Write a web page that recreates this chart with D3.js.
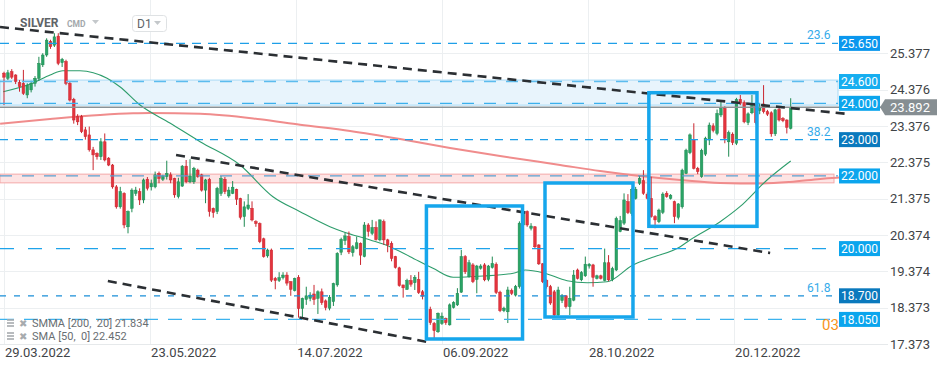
<!DOCTYPE html>
<html>
<head>
<meta charset="utf-8">
<script src="https://cdn.jsdelivr.net/npm/d3@7"></script>
<style>
  body { margin: 0; background: #fff; }
  text { font-family: Roboto, "Noto Sans", sans-serif; }
</style>
</head>
<body>
<script>
var width = 949, height = 370;

// Daily candles
var opens = [24.83,24.69,24.87,24.78,24.57,24.55,24.23,24.37,24.55,24.69,25.06,25.33,25.70,25.60,25.85,25.12,25.15,24.55,24.11,23.63,
  23.63,23.27,23.13,22.72,22.62,22.53,22.94,22.49,22.30,21.70,21.15,21.52,20.60,21.11,21.52,21.57,21.34,21.91,21.70,21.70,
  22.07,21.91,21.98,22.03,21.93,21.43,21.72,22.27,21.84,21.84,22.16,22.03,21.61,21.91,21.11,21.02,21.52,21.91,21.45,21.52,
  21.63,21.38,20.88,21.10,21.11,20.74,20.69,20.27,19.80,19.96,19.18,19.12,19.20,19.27,19.09,18.84,19.20,18.35,18.60,18.63,
  18.75,18.63,18.81,18.56,18.36,18.54,19.00,19.90,20.22,20.33,19.89,20.00,20.14,19.78,20.65,20.42,20.58,20.24,20.74,20.24,
  20.14,19.78,19.47,19.00,18.88,19.12,19.06,19.15,18.81,18.71,18.33,17.94,17.71,17.94,18.08,17.90,18.38,18.45,18.80,19.78,
  19.23,19.55,19.15,19.46,19.55,19.15,19.48,19.57,18.80,18.29,18.26,18.84,18.72,18.95,20.65,21.02,20.56,20.60,20.10,19.58,
  19.13,18.95,18.81,18.17,18.57,18.70,18.40,18.58,19.41,19.14,19.25,19.52,19.55,19.18,19.25,19.12,19.61,19.15,19.41,20.47,
  20.70,21.29,20.97,21.38,21.80,21.87,21.50,21.38,20.88,20.74,21.00,21.52,21.38,21.29,20.86,21.15,22.07,22.64,23.01,22.21,
  21.98,22.60,22.99,23.38,23.17,23.68,23.86,22.94,23.15,22.90,24.11,24.02,23.47,23.74,24.00,23.80,23.98,23.77,23.74,23.16,
  23.83,23.58,23.54,23.31];
var highs = [24.87,24.92,24.94,24.80,24.64,24.92,24.55,24.62,24.75,25.28,25.38,25.79,25.75,25.93,25.93,25.25,25.20,24.60,24.15,23.70,
  23.68,23.35,23.36,22.80,22.65,23.04,23.17,22.52,22.33,21.75,21.70,21.55,21.05,21.66,21.70,21.66,21.93,21.97,21.90,22.12,
  22.12,22.03,22.42,22.10,21.95,21.95,22.30,22.44,22.46,22.25,22.20,22.06,21.92,21.95,21.13,21.70,22.00,21.97,21.70,21.86,
  21.65,21.40,21.30,21.50,21.30,20.78,20.72,20.30,20.00,20.00,19.22,19.35,19.35,19.35,19.10,19.20,19.27,18.65,18.95,18.80,
  19.00,18.85,18.90,18.60,18.72,19.06,19.90,20.30,20.44,20.47,20.10,20.33,20.17,20.73,20.70,20.79,20.75,20.80,20.80,20.27,
  20.20,19.80,19.50,19.00,19.17,19.27,19.27,19.36,18.86,18.82,18.40,17.98,18.24,18.24,18.10,18.49,18.55,18.91,19.96,19.82,
  19.69,19.60,19.55,19.57,19.60,19.55,19.78,19.62,18.84,18.40,18.95,18.90,19.00,20.75,21.11,21.05,20.70,20.62,20.12,19.60,
  19.15,19.00,18.86,18.95,18.75,18.72,18.95,19.41,19.45,19.38,19.78,19.60,19.58,19.28,19.28,20.00,19.82,19.50,20.88,20.90,
  21.52,21.50,21.66,21.70,22.00,22.16,21.55,21.98,20.92,21.10,21.55,21.58,21.50,21.32,21.25,22.20,22.75,23.17,23.45,22.25,
  22.75,23.08,23.47,23.45,23.83,24.07,23.92,23.25,23.20,24.15,24.23,24.08,23.75,24.23,24.02,24.00,24.50,23.82,23.78,23.85,
  23.90,23.62,23.56,24.14];
var lows = [23.95,24.64,24.67,24.53,24.32,24.23,24.14,24.30,24.46,24.62,25.00,25.28,25.50,25.55,25.05,25.00,24.50,24.05,23.44,23.40,
  23.18,23.00,22.67,22.16,22.45,22.44,22.40,22.27,21.65,21.10,21.10,20.56,20.42,21.00,21.45,21.20,21.25,21.60,21.60,21.66,
  21.80,21.86,21.90,21.80,21.40,21.38,21.70,21.80,21.80,21.78,21.95,21.57,21.25,20.88,20.85,20.95,21.45,21.50,21.40,21.50,
  21.20,20.80,20.60,21.06,20.75,20.60,20.15,19.75,19.75,19.08,18.88,19.08,19.15,18.98,18.70,18.82,18.10,18.10,18.45,18.55,
  18.45,18.20,18.45,18.30,18.30,18.42,18.95,19.82,20.10,19.85,19.78,19.98,19.55,19.76,20.33,20.37,20.22,20.20,20.10,19.90,
  19.65,19.45,18.95,18.65,18.86,18.95,18.86,18.75,18.60,18.30,17.90,17.53,17.68,17.90,17.90,17.88,18.35,18.42,18.78,19.30,
  19.20,19.05,18.77,19.42,19.10,19.10,19.45,18.75,18.25,18.25,17.95,18.72,18.68,18.90,20.60,20.60,20.50,20.00,19.55,19.05,
  18.90,18.45,18.10,18.12,18.50,18.35,18.17,18.55,19.15,19.10,19.22,19.45,18.95,19.15,19.15,19.10,19.10,19.10,19.38,20.45,
  20.65,20.95,20.90,21.35,21.75,21.48,21.35,20.85,20.56,20.70,20.95,21.40,21.35,20.70,20.80,21.10,22.05,22.60,22.18,22.05,
  21.95,22.55,22.85,23.20,23.12,23.62,22.90,22.53,22.85,22.85,23.95,23.45,23.40,23.70,23.42,23.70,23.72,23.65,23.08,23.10,
  23.50,23.48,23.17,23.28];
var closes = [24.72,24.84,24.72,24.60,24.46,24.27,24.50,24.55,24.69,25.10,25.33,25.74,25.56,25.83,25.10,25.21,24.55,24.09,23.54,23.49,
  23.22,23.08,22.72,22.58,22.53,22.94,22.44,22.30,21.70,21.15,21.57,20.65,21.02,21.61,21.61,21.34,21.89,21.66,21.79,22.03,
  21.93,22.00,22.07,21.89,21.48,21.84,22.27,21.84,22.00,22.21,21.98,21.61,21.89,21.02,20.99,21.66,21.93,21.57,21.61,21.69,
  21.36,20.86,21.15,21.20,20.79,20.69,20.19,19.78,19.96,19.13,19.12,19.20,19.27,19.05,18.88,19.18,18.35,18.63,18.70,18.72,
  18.60,18.81,18.51,18.38,18.66,19.04,19.87,20.25,20.35,19.91,20.05,20.16,19.82,20.65,20.47,20.58,20.25,20.79,20.24,20.10,
  19.73,19.48,18.98,18.92,19.12,19.02,19.21,18.79,18.69,18.33,17.96,17.74,18.22,18.14,17.96,18.45,18.51,18.77,19.78,19.36,
  19.61,19.09,19.52,19.52,19.14,19.52,19.59,18.79,18.29,18.36,18.86,18.77,18.95,20.70,21.02,20.65,20.62,20.05,19.58,19.09,
  18.95,18.50,18.17,18.86,18.70,18.40,18.63,19.27,19.18,19.34,19.57,19.57,19.21,19.25,19.18,19.61,19.14,19.45,20.83,20.77,
  21.34,20.99,21.63,21.63,21.93,21.52,21.38,20.88,20.79,21.06,21.50,21.43,21.47,20.88,21.23,22.16,22.71,23.13,22.21,22.12,
  22.70,23.04,23.40,23.25,23.72,23.86,23.04,23.19,22.92,24.11,24.00,23.49,23.71,24.00,23.47,23.89,23.77,23.70,23.16,23.82,
  23.54,23.52,23.34,23.89];

var lastPrice = 23.892;

// Axis ticks and date labels
var priceTicks = [25.377, 24.376, 23.376, 22.375, 21.375, 20.374, 19.374, 18.373, 17.373];
var dateLabels = ["29.03.2022", "23.05.2022", "14.07.2022", "06.09.2022", "28.10.2022", "20.12.2022"];
var dateIdx = [0, 37.7, 75.4, 113, 150.7, 188.4];

// Horizontal levels (right side labels) and fibonacci marks
var levels = [25.65, 24.6, 24.0, 23.0, 22.0, 20.0, 18.7, 18.05];
var fibNames = ["23.6", "38.2", "61.8"];
var fibLevels = [25.65, 23.0, 18.7];
var blueZone = [23.95, 24.64];
var pinkZone = [21.81, 22.05];

// Moving averages
var smmaIdx = [-1, 11.9, 24.8, 33.3, 37.7, 50.6, 66.1, 76.4, 89.3, 102.2, 115.1, 128, 143.5, 153.8, 164.1, 174.5, 184.8, 195.1, 202.8, 210.6, 220.9];
var smmaVal = [23.44, 23.57, 23.68, 23.725, 23.733, 23.714, 23.56, 23.41, 23.238, 23.017, 22.77, 22.549, 22.302, 22.136, 21.999, 21.889, 21.807, 21.792, 21.834, 21.917, 21.999];
var smaIdx = [-0.2, 7.5, 11.9, 15.2, 19.6, 26.6, 29.9, 35.1, 42.8, 50.6, 60.9, 69.4, 76.4, 84.1, 87.5, 94.5, 99.6, 104.8, 110.7, 115.9, 123.6, 131.4, 134.5, 139.1, 145.3, 150.5, 155.6, 162.3, 166.7, 174.5, 177, 184.8, 189.9, 196.9, 203];
var smaVal = [24.32, 24.559, 24.779, 24.898, 24.898, 24.689, 24.457, 23.954, 23.458, 22.943, 22.302, 21.429, 21.016, 20.603, 20.465, 20.237, 20.052, 19.777, 19.457, 19.21, 19.245, 19.32, 19.41, 19.336, 19.116, 19.061, 19.088, 19.548, 19.733, 20.052, 20.237, 20.74, 21.154, 21.889, 22.412];

// Drawn trendlines and boxes
var trendFromIdx = [-1.03, 44.4, 26.8], trendFromVal = [26.101, 22.577, 19.108];
var trendToIdx = [217.8, 197.7, 109.4], trendToVal = [23.706, 19.879, 17.428];
var boxFrom = [109, 139.6, 166.4], boxTo = [133.8, 162.3, 194.3];
var boxHigh = [21.173, 21.806, 24.292], boxLow = [17.511, 18.117, 20.613];

// Scales
var x = d3.scaleLinear().domain([0, closes.length - 1]).range([4, 790.7]);
var y = d3.scaleLinear().domain([17.373, 25.377]).range([344, 53.3]);
var plotRight = 888;

var svg = d3.select("body").append("svg")
    .attr("width", width)
    .attr("height", height);

// Grid
svg.append("g").selectAll("line")
    .data(priceTicks)
    .enter().append("line")
    .attr("x1", 0).attr("x2", plotRight)
    .attr("y1", function(d) { return Math.round(y(d)) + 0.5; })
    .attr("y2", function(d) { return Math.round(y(d)) + 0.5; })
    .attr("stroke", "#eceff1");
svg.append("g").selectAll("line")
    .data(dateIdx)
    .enter().append("line")
    .attr("x1", function(d) { return Math.round(x(d)) + 0.5; })
    .attr("x2", function(d) { return Math.round(x(d)) + 0.5; })
    .attr("y1", 0).attr("y2", 344)
    .attr("stroke", "#eceff1");
svg.append("line")
    .attr("x1", 0).attr("x2", plotRight)
    .attr("y1", 344.5).attr("y2", 344.5)
    .attr("stroke", "#e6e9eb");

// Zones
svg.append("rect")
    .attr("x", 0).attr("width", 838)
    .attr("y", y(blueZone[1])).attr("height", y(blueZone[0]) - y(blueZone[1]))
    .attr("fill", "#e8f4fc").attr("stroke", "#a9daf5").attr("stroke-width", 1);
svg.append("rect")
    .attr("x", 0).attr("width", 834)
    .attr("y", y(pinkZone[1])).attr("height", y(pinkZone[0]) - y(pinkZone[1]))
    .attr("fill", "#fde4e4").attr("stroke", "#f4a9a9").attr("stroke-width", 1);

// Moving averages
var maLine = d3.line()
    .x(function(d) { return x(d[0]); })
    .y(function(d) { return y(d[1]); })
    .curve(d3.curveMonotoneX);
svg.append("path")
    .datum(d3.zip(smmaIdx, smmaVal))
    .attr("d", maLine)
    .attr("fill", "none").attr("stroke", "#f08c8c").attr("stroke-width", 2);
svg.append("path")
    .datum(d3.zip(smaIdx, smaVal))
    .attr("d", maLine)
    .attr("fill", "none").attr("stroke", "#2e9d6c").attr("stroke-width", 1.1);

// Candles
var candles = d3.range(closes.length).map(function(i) {
  return {i: i, o: opens[i], h: highs[i], l: lows[i], c: closes[i]};
});
var cg = svg.append("g").selectAll("g")
    .data(candles)
    .enter().append("g");
cg.append("line")
    .attr("x1", function(d) { return x(d.i); })
    .attr("x2", function(d) { return x(d.i); })
    .attr("y1", function(d) { return y(d.h); })
    .attr("y2", function(d) { return y(d.l); })
    .attr("stroke", function(d) { return d.c >= d.o ? "#1f8a52" : "#c9262f"; })
    .attr("stroke-width", 1);
cg.append("rect")
    .attr("x", function(d) { return x(d.i) - 1.3; })
    .attr("width", 2.6)
    .attr("y", function(d) { return y(Math.max(d.o, d.c)); })
    .attr("height", function(d) { return Math.max(1, Math.abs(y(d.o) - y(d.c))); })
    .attr("fill", function(d) { return d.c >= d.o ? "#2aa466" : "#e4343e"; })
    .attr("stroke", function(d) { return d.c >= d.o ? "#1f8a52" : "#c9262f"; })
    .attr("stroke-width", 0.5);

// Horizontal levels
var levelColor = ["#1e9fe8", "#5cbcee", "#3cb0ec", "#1e9fe8", "#5a9fd0", "#1ea3ea", "#1a8ed8", "#3db3ee"];
var levelDash = ["9,7", "12,10", "12,10", "8,7", "12,10", "14,14", "6,8", "14,10"];
svg.append("g").selectAll("line")
    .data(levels)
    .enter().append("line")
    .attr("x1", 0).attr("x2", 838)
    .attr("y1", function(d) { return y(d); })
    .attr("y2", function(d) { return y(d); })
    .attr("stroke", function(d, i) { return levelColor[i]; })
    .attr("stroke-dasharray", function(d, i) { return levelDash[i]; })
    .attr("stroke-width", 1.3);

// Current price line
svg.append("line")
    .attr("x1", 0).attr("x2", 882)
    .attr("y1", y(lastPrice)).attr("y2", y(lastPrice))
    .attr("stroke", "#8a9296").attr("stroke-width", 1.5);

// Trendlines
svg.append("g").selectAll("line")
    .data(trendFromIdx)
    .enter().append("line")
    .attr("x1", function(d, i) { return x(trendFromIdx[i]); })
    .attr("y1", function(d, i) { return y(trendFromVal[i]); })
    .attr("x2", function(d, i) { return x(trendToIdx[i]); })
    .attr("y2", function(d, i) { return y(trendToVal[i]); })
    .attr("stroke", "#2b2f33").attr("stroke-width", 2.6)
    .attr("stroke-dasharray", "9,6");

// Boxes
svg.append("g").selectAll("rect")
    .data(boxFrom)
    .enter().append("rect")
    .attr("x", function(d, i) { return x(boxFrom[i]); })
    .attr("y", function(d, i) { return y(boxHigh[i]); })
    .attr("width", function(d, i) { return x(boxTo[i]) - x(boxFrom[i]); })
    .attr("height", function(d, i) { return y(boxLow[i]) - y(boxHigh[i]); })
    .attr("fill", "none").attr("stroke", "#16a6ec").attr("stroke-width", 3.5);

// Fibonacci names
svg.append("g").selectAll("text")
    .data(fibLevels)
    .enter().append("text")
    .attr("x", 807)
    .attr("y", function(d) { return y(d) - 4; })
    .attr("font-size", 12)
    .attr("fill", "#36abea")
    .text(function(d, i) { return fibNames[i]; });

// Orange time marker, the rest of it sits under the level label
svg.append("text")
    .attr("x", 822).attr("y", 330)
    .attr("font-size", 15).attr("fill", "#f7941d")
    .text("03");

// Right axis
var axis = d3.axisRight(y)
    .tickValues(priceTicks)
    .tickFormat(d3.format(".3f"))
    .tickSize(0)
    .tickPadding(0);
var ag = svg.append("g")
    .attr("transform", "translate(890,0)")
    .call(axis);
ag.select(".domain").remove();
ag.selectAll("text")
    .attr("font-family", "Roboto, sans-serif")
    .attr("font-size", 13)
    .attr("fill", "#3f4447");

// Level labels
var labelFill = ["#0b97ee", "#16aef0", "#0ba5ed", "#0a79bd", "#0ba5ed", "#0ba5ed", "#0a79bd", "#0ba5ed"];
var lg = svg.append("g").selectAll("g")
    .data(levels)
    .enter().append("g")
    .attr("transform", function(d) { return "translate(839," + y(d) + ")"; });
lg.append("rect")
    .attr("x", 0).attr("y", -7.5)
    .attr("width", 41).attr("height", 15)
    .attr("fill", function(d, i) { return labelFill[i]; });
lg.append("text")
    .attr("x", 20.5).attr("y", 4.3)
    .attr("text-anchor", "middle")
    .attr("font-size", 12).attr("fill", "#fff")
    .text(d3.format(".3f"));

// Last price tag
var py = y(lastPrice);
svg.append("path")
    .attr("d", "M880," + py + "L885," + (py - 8) + "H937V" + (py + 8) + "H885Z")
    .attr("fill", "#868e92");
svg.append("text")
    .attr("x", 910).attr("y", py + 4.8)
    .attr("text-anchor", "middle")
    .attr("font-size", 13).attr("fill", "#fff")
    .text(d3.format(".3f")(lastPrice));

// Date labels
svg.append("g").selectAll("text")
    .data(dateLabels)
    .enter().append("text")
    .attr("x", function(d, i) { return x(dateIdx[i]) + 1; })
    .attr("y", 357)
    .attr("font-size", 13)
    .attr("fill", "#3f4447")
    .text(function(d) { return d; });

// Header
svg.append("text").attr("x", 20).attr("y", 27)
    .attr("font-size", 12).attr("font-weight", "bold").attr("fill", "#5f6468")
    .text("SILVER");
svg.append("text").attr("x", 67).attr("y", 27)
    .attr("font-size", 8.5).attr("font-weight", "bold").attr("fill", "#a3a8ab")
    .text("CMD");
svg.append("path").attr("d", "M92,20H99L95.5,24Z").attr("fill", "#c4c8cb");
svg.append("rect").attr("x", 132.5).attr("y", 15.5).attr("width", 34).attr("height", 16).attr("rx", 3)
    .attr("fill", "#fff").attr("stroke", "#dfe2e4");
svg.append("text").attr("x", 137).attr("y", 28)
    .attr("font-size", 12).attr("fill", "#5f6468")
    .text("D1");
svg.append("path").attr("d", "M154,21H161L157.5,25Z").attr("fill", "#c4c8cb");

// Indicator legend
var legendText = ["SMMA [200,  20] 21.834", "SMA [50,  0] 22.452"];
var leg = svg.append("g").selectAll("g")
    .data(legendText)
    .enter().append("g")
    .attr("transform", function(d, i) { return "translate(0," + (323 + i * 13) + ")"; });
[-3, 0, 3].forEach(function(o) {
  leg.append("line").attr("x1", 7).attr("x2", 14).attr("y1", o).attr("y2", o)
      .attr("stroke", "#a7abae").attr("stroke-width", 1.6);
});
leg.append("text").attr("x", 19).attr("y", 4)
    .attr("font-size", 10).attr("fill", "#a7abae")
    .text("\u2716");
leg.append("text").attr("x", 32).attr("y", 4)
    .attr("font-size", 11).attr("fill", "#696e72")
    .attr("xml:space", "preserve")
    .style("white-space", "pre")
    .text(function(d) { return d; });
</script>
</body>
</html>
